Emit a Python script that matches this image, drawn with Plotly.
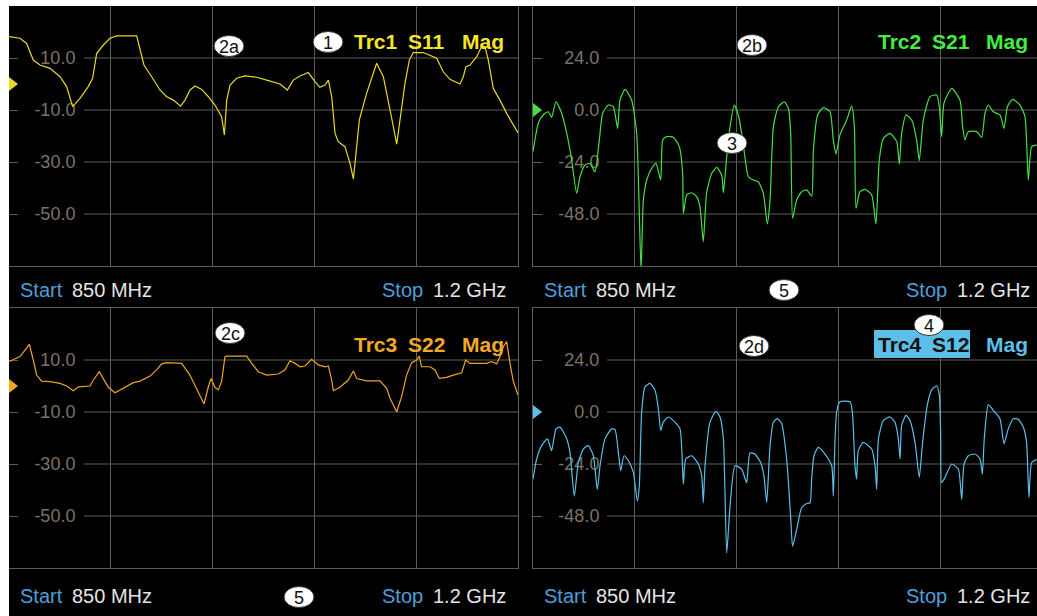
import plotly.graph_objects as go

W, H = 1037, 616

# ---------------- measured traces (frequency in MHz, magnitude in dB) ----------------
s11_freq = [850, 857.6, 862.1, 866.7, 871.3, 878.2, 885.1, 889.6, 893.8, 898.8,
            904.5, 907.5, 910.3, 914.9, 919.4, 924.0, 937.8, 940.1, 942.8, 948.1,
            953.8, 958.4, 963.0, 968.0, 971.0, 974.5, 977.9, 982.5, 987.1, 991.6,
            996.2, 998.1, 999.7, 1002.0, 1006.5, 1012.3, 1020.3, 1027.2, 1036.3, 1041.4,
            1045.5, 1050.1, 1055.8, 1060.4, 1063.8, 1067.3, 1069.6, 1071.9, 1074.2, 1076.4,
            1081.0, 1084.5, 1086.8, 1088.6, 1090.9, 1095.9, 1102.8, 1107.4, 1110.8, 1114.3,
            1116.6, 1118.8, 1122.3, 1125.3, 1128.0, 1134.9, 1144.1, 1148.6, 1153.2, 1160.1,
            1162.4, 1164.2, 1167.0, 1171.6, 1175.0, 1177.3, 1179.6, 1183.0, 1187.6, 1192.2,
            1200]
s11_db = [18.2, 17.6, 15.6, 9.2, 7.3, 6.0, 2.8, -1.0, -8.7, -5.5,
          -1.0, 2.2, 11.8, 15.0, 17.6, 18.5, 18.5, 13.1, 7.3, 2.8,
          -2.3, -4.9, -6.2, -8.5, -6.2, -2.3, -0.8, -2.1, -4.9, -8.1,
          -12.6, -19.6, -6.2, -0.4, 2.2, 3.1, 2.6, 1.5, 0.0, -2.3,
          1.5, 3.1, 4.4, 0.9, -1.3, -0.4, 1.5, -4.9, -19.0, -22.2,
          -24.1, -30.5, -36.5, -26.7, -13.8, -3.6, 8.0, 2.8, -6.2, -16.4,
          -23.1, -13.8, 0.3, 9.2, 12.1, 12.1, 9.9, 4.7, 1.8, 0.0,
          2.8, 6.7, 7.3, 10.5, 14.4, 14.4, 9.2, -1.7, -6.2, -11.3,
          -18.8]

s21_freq = [850, 853.7, 857.1, 860.5, 862.8, 865.8, 869.7, 873.2, 876.6, 880.0,
            882.3, 885.8, 889.2, 892.6, 895.6, 897.9, 901.8, 905.2, 908.2, 909.8,
            913.3, 917.8, 921.3, 924.3, 925.9, 928.2, 931.6, 934.6, 937.8, 939.2,
            941.9, 946.5, 950.6, 952.9, 953.4, 955.7, 959.1, 962.5, 964.8, 967.1,
            969.4, 972.9, 976.3, 979.7, 980.9, 983.2, 985.5, 988.4, 991.2, 994.2,
            998.1, 1001.5, 1004.9, 1008.4, 1011.1, 1013.0, 1015.3, 1018.7, 1022.8, 1025.6,
            1027.2, 1028.5, 1031.3, 1034.7, 1038.2, 1041.6, 1042.8, 1045.7, 1049.6, 1054.2,
            1056.5, 1058.3, 1061.1, 1065.7, 1069.1, 1071.0, 1072.1, 1074.8, 1078.3, 1082.9,
            1085.8, 1088.1, 1090.9, 1095.5, 1100.1, 1101.9, 1103.5, 1106.5, 1110.4, 1113.8,
            1115.6, 1118.4, 1123.0, 1127.6, 1129.4, 1131.0, 1132.6, 1137.9, 1143.6, 1145.4,
            1147.0, 1149.3, 1155.1, 1158.5, 1160.8, 1163.1, 1166.5, 1171.1, 1173.9, 1176.2,
            1179.8, 1184.9, 1188.3, 1190.6, 1192.9, 1196.3]
s21_db = [-19.2, -6.0, -2.2, -0.8, -3.4, 3.8, -1.5, -10.8, -23.1, -38.5,
          -30.8, -25.4, -24.6, -28.5, -13.8, -1.5, 2.3, 1.5, -8.5, 4.6,
          9.5, 4.6, -10.8, -74.0, -41.5, -32.3, -26.9, -24.6, -32.3, -13.8,
          -12.3, -12.6, -16.9, -29.2, -47.7, -39.2, -38.2, -40.0, -44.6, -60.8,
          -38.2, -29.2, -26.5, -30.0, -38.2, -21.5, -7.7, 2.3, -2.3, -13.8,
          -30.8, -32.3, -33.1, -38.5, -52.6, -41.5, -7.7, 1.5, 3.8, 0.8,
          -10.8, -50.0, -41.5, -37.7, -36.9, -39.7, -18.5, -2.3, 1.1, -0.8,
          -13.8, -20.3, -11.5, -4.6, 1.8, -7.7, -45.4, -37.7, -36.6, -39.2,
          -52.6, -23.1, -13.1, -10.8, -14.6, -24.9, -10.8, -2.3, -4.6, -13.8,
          -23.4, -4.6, 6.2, 6.9, 1.5, -12.3, 3.1, 10.0, 4.6, -7.7,
          -13.8, -10.0, -10.0, -12.6, -1.5, 2.3, -0.8, -2.3, -8.5, 1.5,
          4.9, 2.3, -3.1, -32.3, -16.9, -16.2]

s22_freq = [850, 857.6, 861.0, 864.0, 866.7, 869.0, 872.5, 878.2, 885.1, 889.7,
            894.2, 897.7, 905.7, 908.0, 912.1, 914.9, 918.3, 922.9, 928.6, 935.5,
            940.1, 947.0, 951.5, 955.0, 958.4, 968.7, 974.4, 979.0, 984.1, 987.1,
            988.9, 991.6, 993.9, 996.2, 998.5, 999.7, 1013.4, 1016.9, 1021.4, 1027.2,
            1035.2, 1039.8, 1043.2, 1046.7, 1050.1, 1053.5, 1058.1, 1062.7, 1067.3, 1069.6,
            1071.9, 1073.0, 1077.6, 1083.3, 1086.8, 1089.1, 1095.9, 1105.1, 1109.7, 1112.0,
            1116.6, 1120.0, 1123.4, 1126.9, 1130.3, 1132.1, 1133.7, 1139.5, 1142.9, 1145.9,
            1150.9, 1155.5, 1161.3, 1164.0, 1167.0, 1178.4, 1181.9, 1185.3, 1187.6, 1189.9,
            1192.2, 1194.5, 1196.8, 1200]
s22_db = [9.4, 11.3, 13.8, 16.0, 10.0, 4.2, 1.9, 1.7, 1.0, 0.0,
          -1.8, -0.3, 0.0, 2.3, 5.5, 2.9, -0.5, -2.6, -0.9, 1.3,
          1.9, 3.8, 6.2, 8.5, 9.0, 8.7, 4.2, -0.9, -6.9, -0.3,
          2.9, -0.5, -1.5, 1.7, 11.3, 11.5, 11.5, 8.7, 5.5, 4.2,
          4.6, 6.2, 9.7, 8.7, 7.4, 7.7, 10.3, 8.1, 7.4, 7.7,
          2.3, -1.8, -0.5, 2.3, 5.8, 2.9, 2.0, 2.0, -0.9, -4.7,
          -9.9, -4.1, 4.2, 9.0, 10.0, 11.5, 7.4, 7.4, 6.2, 2.9,
          3.3, 4.2, 5.1, 10.0, 8.7, 8.7, 9.4, 8.5, 11.3, 15.1,
          17.1, 8.7, 1.7, -3.5]

s12_freq = [850, 852.5, 855.9, 859.9, 862.8, 865.8, 868.6, 873.2, 875.4, 878.4,
            881.2, 884.6, 888.0, 891.5, 894.2, 896.1, 899.5, 904.1, 906.4, 908.7,
            910.3, 912.6, 915.6, 919.0, 921.7, 923.1, 924.7, 927.0, 930.4, 933.9,
            936.2, 937.8, 939.6, 943.1, 947.6, 951.1, 953.4, 955.0, 959.1, 963.7,
            966.0, 967.1, 968.3, 971.7, 975.8, 978.6, 980.9, 983.2, 985.5, 988.9,
            993.5, 996.9, 999.2, 1002.6, 1006.5, 1008.8, 1010.7, 1013.0, 1015.3, 1018.0,
            1021.0, 1024.4, 1027.2, 1028.5, 1031.3, 1034.7, 1038.2, 1040.5, 1041.6, 1043.2,
            1046.2, 1050.8, 1055.4, 1056.5, 1057.7, 1058.8, 1061.1, 1068.0, 1069.6, 1071.4,
            1072.5, 1073.7, 1077.1, 1082.9, 1085.2, 1086.3, 1087.5, 1090.9, 1095.5, 1098.9,
            1101.2, 1102.4, 1103.5, 1106.5, 1109.2, 1112.7, 1115.6, 1117.9, 1121.1, 1124.1,
            1127.6, 1129.4, 1130.3, 1131.0, 1133.3, 1137.9, 1142.5, 1144.8, 1146.4, 1149.3,
            1153.9, 1157.4, 1159.0, 1160.3, 1163.1, 1166.5, 1171.1, 1173.9, 1176.8, 1180.3,
            1183.7, 1187.2, 1189.4, 1191.0, 1192.9, 1196.3]
s12_db = [-31.0, -21.7, -15.5, -12.4, -17.8, -7.8, -7.0, -12.4, -18.6, -38.8,
          -23.3, -17.1, -15.5, -20.2, -35.7, -24.8, -12.4, -7.8, -8.1, -18.6,
          -27.1, -20.2, -22.5, -27.9, -41.1, -34.1, 0.0, 11.6, 13.2, 10.1,
          1.6, -8.5, -4.7, -2.3, -4.7, -7.8, -33.3, -21.7, -20.2, -24.0,
          -29.5, -41.9, -24.8, -4.7, 0.3, -2.3, -12.4, -65.1, -43.4, -24.8,
          -26.4, -32.6, -18.9, -19.4, -23.3, -29.5, -41.9, -15.5, -4.7, -3.1,
          -5.4, -21.7, -48.8, -62.0, -54.3, -44.2, -42.2, -41.9, -31.0, -20.2,
          -16.3, -19.4, -24.8, -38.8, -12.4, 0.0, 4.7, 4.7, 0.0, -24.8,
          -31.0, -17.8, -14.0, -17.1, -24.8, -35.7, -12.4, -3.9, -2.3, -4.7,
          -12.4, -21.7, -6.2, -1.6, -3.9, -14.0, -30.2, -14.0, 3.1, 10.1,
          12.1, 7.8, -9.3, -32.6, -30.2, -24.0, -26.4, -40.3, -24.0, -20.2,
          -19.4, -21.7, -28.7, -12.4, 3.4, 0.8, -3.1, -14.7, -7.8, -3.1,
          -3.4, -7.0, -14.0, -39.5, -23.3, -22.0]

# ---------------- sweep / scale settings ----------------
start_mhz, stop_mhz = 850, 1200
div_mhz = 70
refl_ticks = [10, -10, -30, -50]          # S11 / S22 scale (dB)
trans_ticks = [24, 0, -24, -48]           # S21 / S12 scale (dB)
refl_range = [-70, 30]
trans_range = [-72, 48]
ref_level = 0

GRID = "#5c5c5c"
TICK_TXT = "#7b7364"
BLUE_TXT = "#4d9fdc"
WHITE_TXT = "#e4e4e4"
FONT = "Liberation Sans, Arial, sans-serif"


def fx(x):
    return x / W


def fy(y):
    return 1 - y / H


# diagram windows in screen pixels: (left, right, top, bottom)
left_x, right_x = (9, 518), (533, W)
top_y, bot_y = (6, 266), (308, 568)
px_per_mhz = (left_x[1] - left_x[0]) / (stop_mhz - start_mhz)
right_stop = start_mhz + (right_x[1] - right_x[0]) / px_per_mhz

panels = [
    dict(name="Trc1", param="S11", color="#e8d826", title="#f4e42c", freq=s11_freq, db=s11_db,
         xs=left_x, ys=top_y, yr=refl_range, ticks=refl_ticks, xend=stop_mhz, ax="", foot_y=290,
         shape="linear"),
    dict(name="Trc2", param="S21", color="#46e046", title="#44ec44", freq=s21_freq, db=s21_db,
         xs=right_x, ys=top_y, yr=trans_range, ticks=trans_ticks, xend=right_stop, ax="2", foot_y=290,
         shape="spline"),
    dict(name="Trc3", param="S22", color="#eea424", title="#f2a82a", freq=s22_freq, db=s22_db,
         xs=left_x, ys=bot_y, yr=refl_range, ticks=refl_ticks, xend=stop_mhz, ax="3", foot_y=596,
         shape="linear"),
    dict(name="Trc4", param="S12", color="#5cbfe8", title="#5cbfe8", freq=s12_freq, db=s12_db,
         xs=right_x, ys=bot_y, yr=trans_range, ticks=trans_ticks, xend=right_stop, ax="4", foot_y=596,
         shape="spline"),
]

fig = go.Figure()
shapes, annotations = [], []
layout_axes = {}

for p in panels:
    xa, ya = "x" + p["ax"], "y" + p["ax"]
    line = dict(color=p["color"], width=1.2, shape=p["shape"])
    if p["shape"] == "spline":
        line["smoothing"] = 0.55
    fig.add_trace(go.Scatter(x=p["freq"], y=p["db"], mode="lines", line=line,
                             xaxis=xa, yaxis=ya, hoverinfo="skip", showlegend=False))
    layout_axes["xaxis" + p["ax"]] = dict(
        domain=[fx(p["xs"][0]), fx(p["xs"][1])], range=[start_mhz, p["xend"]],
        anchor=ya, showgrid=True, gridcolor=GRID, gridwidth=1, tick0=start_mhz, dtick=div_mhz,
        showticklabels=False, ticks="", zeroline=False, showline=True, linecolor=GRID,
        linewidth=1, mirror=True, fixedrange=True, layer="below traces")
    layout_axes["yaxis" + p["ax"]] = dict(
        domain=[fy(p["ys"][1]), fy(p["ys"][0])], range=p["yr"], anchor=xa,
        tickvals=p["ticks"], ticktext=[f"{v:.1f}" for v in p["ticks"]],
        showgrid=False, zeroline=False, ticks="inside", ticklen=9, tickcolor=GRID, tickwidth=1,
        showline=True, linecolor=GRID, linewidth=1, mirror=True, fixedrange=True,
        ticklabelposition="outside", ticklabelstandoff=-71,
        tickfont=dict(family=FONT, size=18, color=TICK_TXT), layer="below traces")

    # horizontal divisions, interrupted by the scale labels
    for v in p["ticks"]:
        shapes.append(dict(type="line", xref=xa + " domain", yref=ya, x0=0.147, x1=1, y0=v, y1=v,
                           line=dict(color=GRID, width=1), layer="below"))

    # reference level marker on the left edge
    shapes.append(dict(type="path", xref=xa, yref=ya, xsizemode="pixel", ysizemode="pixel",
                       xanchor=start_mhz, yanchor=ref_level, path="M0,7 L9,0 L0,-7 Z",
                       fillcolor=p["color"], line=dict(width=0), layer="above"))

    # trace title: "TrcN  Sxy   Mag"
    x0 = p["xs"][0]
    ty = p["ys"][0] + 36
    words = [(p["name"], x0 + 343), (p["param"], x0 + 397), ("Mag", x0 + 451)]
    if p["name"] == "Trc4":
        shapes.append(dict(type="rect", xref="paper", yref="paper",
                           x0=fx(874), x1=fx(970), y0=fy(358), y1=fy(330),
                           fillcolor=p["title"], line=dict(width=0), layer="above"))
    for i, (w, xx) in enumerate(words):
        col = "#111111" if (p["name"] == "Trc4" and i < 2) else p["title"]
        annotations.append(dict(text=f"<b>{w}</b>", x=fx(xx), y=fy(ty), xref="paper", yref="paper",
                                xanchor="left", yanchor="middle", showarrow=False,
                                font=dict(family=FONT, size=21, color=col)))

    # sweep range footer
    fyy = p["foot_y"]
    for txt, xx, anc, col in [("Start", x0 + 9, "left", BLUE_TXT),
                              (f"{start_mhz} MHz", x0 + 61, "left", WHITE_TXT),
                              ("Stop", x0 + 416, "right", BLUE_TXT),
                              (f"{stop_mhz / 1000:.1f} GHz", x0 + 499, "right", WHITE_TXT)]:
        annotations.append(dict(text=txt, x=fx(xx), y=fy(fyy), xref="paper", yref="paper",
                                xanchor=anc, yanchor="middle", showarrow=False,
                                font=dict(family=FONT, size=20, color=col)))

# numbered callouts
callouts = [("1", 328, 42), ("2a", 229, 46), ("2b", 752, 45), ("3", 732, 143), ("5", 784, 290),
            ("2c", 230, 333), ("2d", 754, 346), ("4", 929, 325), ("5", 299, 597)]
for label, cx, cy in callouts:
    shapes.append(dict(type="circle", xref="paper", yref="paper",
                       x0=fx(cx - 15), x1=fx(cx + 15), y0=fy(cy + 10.5), y1=fy(cy - 10.5),
                       fillcolor="white", line=dict(color="#303030", width=1), layer="above"))
    annotations.append(dict(text=label, x=fx(cx), y=fy(cy + 1), xref="paper", yref="paper",
                            xanchor="center", yanchor="middle", showarrow=False,
                            font=dict(family=FONT, size=18, color="#111111")))

# white frame on the top and left edge
shapes.append(dict(type="rect", xref="paper", yref="paper", x0=0, x1=fx(9), y0=0, y1=1,
                   fillcolor="white", line=dict(width=0), layer="above"))
shapes.append(dict(type="rect", xref="paper", yref="paper", x0=0, x1=1, y0=fy(6), y1=1,
                   fillcolor="white", line=dict(width=0), layer="above"))

fig.update_layout(width=W, height=H, margin=dict(l=0, r=0, t=0, b=0),
                  paper_bgcolor="black", plot_bgcolor="black",
                  shapes=shapes, annotations=annotations, showlegend=False, **layout_axes)

fig.write_html("out.html", config=dict(displayModeBar=False))
